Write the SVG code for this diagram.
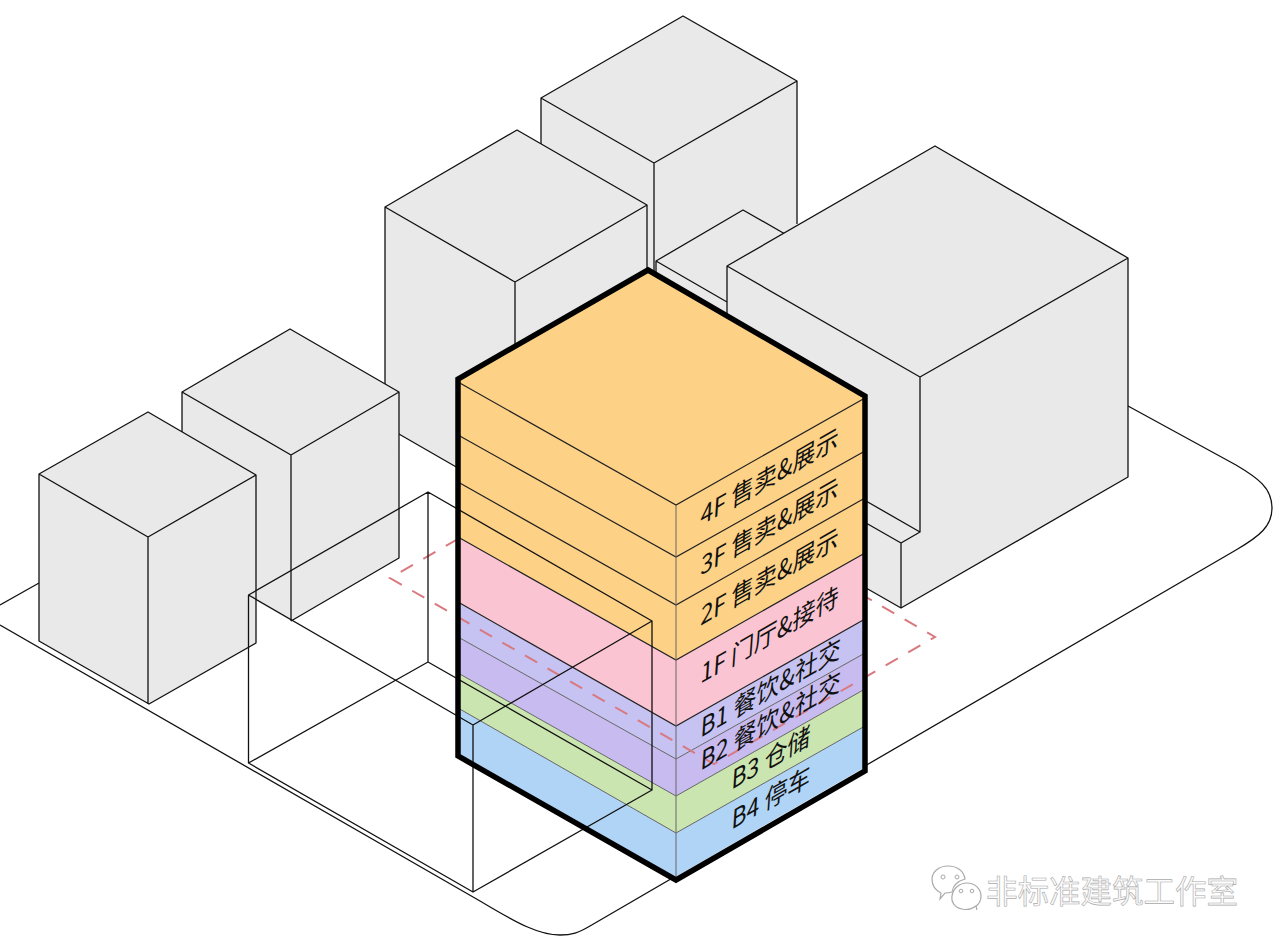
<svg xmlns="http://www.w3.org/2000/svg" width="1280" height="947" viewBox="0 0 1280 947">
<style>
.h{fill:#e9e9e9;stroke:none}
.l{fill:none;stroke:#111;stroke-width:1.3;stroke-linejoin:round}
.f{stroke:none}
.e{fill:none;stroke:#222;stroke-width:1.2}
.g{fill:none;stroke:#666;stroke-width:1}
.o{fill:#fdd186}.p{fill:#fbc4d2}.u{fill:#c6c3f3}.v{fill:#c7bbef}.n{fill:#cbe5b0}.s{fill:#b0d4f5}
.t{font-family:"Noto Sans CJK SC","Noto Sans",sans-serif;font-size:26.500px;fill:#111}
.w{font-family:"Noto Sans CJK SC","Noto Sans",sans-serif;font-size:31.500px;fill:#fbfbfb;stroke:#aaa;stroke-width:.6}
.d{fill:none;stroke:#d9797f;stroke-width:2;stroke-dasharray:14 12}
.c{fill:#fff;stroke:#aaa;stroke-width:1.2}
.y{fill:none;stroke:#aaa;stroke-width:1}
</style>
<rect width="1280" height="947" fill="#fff"/>
<g id="site"><path class="l" d="M0 625L480 901C520 925 540 935 560 935C572 935 578 933 590 926L1236 550C1260 536 1272 526 1272 508C1272 488 1258 478 1236 465L1128 406M0 605L39 583"/></g>
<g id="building-d"><path class="h" d="M683 16L797 81V300H541V98Z"/><path class="l" d="M541 144V98L683 16L797 81V224M541 98L654 163L797 81M654 163V272"/></g>
<g id="building-c"><path class="h" d="M517 130L647 205V400L515 500L385 426V207Z"/><path class="l" d="M647 272V205L517 130L385 207V426L458 468M385 207L515 282L647 205M515 282V350"/></g>
<g id="building-e"><path class="h" d="M743 210L790 238V320H656V261Z"/><path class="l" d="M656 276V261L743 210L785 234M656 261L727 302"/></g>
<g id="building-f"><path class="h" d="M935 146L1128 258V477L901 608L866 588V400L727 320V266Z"/><path class="l" d="M727 316V266L935 146L1128 258V477L901 608L866 588M727 266L920 377L1128 258M920 377V532L901 543V608M901 543L866 523M920 532L866 501"/></g>
<g id="building-b"><path class="h" d="M290 329L399 392V558L291 621L182 558V392Z"/><path class="l" d="M182 520V392L290 329L399 392V558L291 621M182 392L291 455L399 392M291 455V621"/></g>
<g id="building-a"><path class="h" d="M148 412L256 475V643L149 704L39 641V474Z"/><path class="l" d="M39 474L148 412L256 475V643L149 704L39 641ZM39 474L148 537L256 475M148 537V704"/></g>
<g id="tower">
<path class="f o" d="M648 270L865 396V553L676 660L458 537V379Z"/>
<path class="f p" d="M458 537L676 660L865 553V619L676 726L458 602Z"/>
<path class="f u" d="M458 602L676 726L865 619V653L676 759L458 637Z"/>
<path class="f v" d="M458 637L676 759L865 653V689L676 796L458 673Z"/>
<path class="f n" d="M458 673L676 796L865 689V726L676 833L458 708Z"/>
<path class="f s" d="M458 708L676 833L865 726V771L676 880L458 756Z"/>
<path class="e" d="M458 382L676 505L865 398M458 435L676 557L865 451M458 482L676 605L865 498M458 537L676 660L865 553M458 602L676 726L865 619"/>
<path class="g" d="M458 637L676 759L865 653M458 673L676 796L865 689M458 708L676 833L865 726M676 505V878"/>
<path d="M678 876L863 769" fill="none" stroke="#eef5fc" stroke-width="1.2"/>
</g>
<g id="red-dash"><path class="d" d="M458 539L390 578L714 764L935 637L866 597"/></g>
<g id="wire-box"><path class="l" d="M428 492L652 621L473 725L248.500 595ZM428 662L652 790L473 892L248.500 763ZM428 492V662M652 621V790M473 725V892M248.500 595V763"/></g>
<g id="tower-outline"><path fill="none" stroke="#000" stroke-width="5.500" stroke-linejoin="miter" d="M648 270L865 396V771L676 880L458 756V379Z"/></g>
<g id="labels">
<text class="t" transform="matrix(.866 -.5 -.07 1 700 526)">4F 售卖&amp;展示</text>
<text class="t" transform="matrix(.866 -.5 -.07 1 700 576)">3F 售卖&amp;展示</text>
<text class="t" transform="matrix(.866 -.5 -.07 1 700 626)">2F 售卖&amp;展示</text>
<text class="t" transform="matrix(.866 -.5 -.07 1 700 684)">1F 门厅&amp;接待</text>
<text class="t" transform="matrix(.866 -.5 -.07 1 700 738)">B1 餐饮&amp;社交</text>
<text class="t" transform="matrix(.866 -.5 -.07 1 700 771)">B2 餐饮&amp;社交</text>
<text class="t" transform="matrix(.866 -.5 -.07 1 731 790)">B3 仓储</text>
<text class="t" transform="matrix(.866 -.5 -.07 1 731 830)">B4 停车</text>
</g>
<g id="watermark">
<path class="c" d="M940 899L941 893C935 890 932 885 932 879C932 871 940 866 948 866C957 866 964 871 965 879C958 881 953 885 952 892C949 893 947 893 945 893Z"/>
<path class="c" d="M977 910L976 906C972 909 966 910 962 909C955 908 951 902 952 896C953 888 960 883 967 883C975 883 981 889 981 896C981 900 979 904 976 906"/>
<circle class="y" cx="943" cy="877" r="2"/><circle class="y" cx="957" cy="877" r="2"/><circle class="y" cx="961" cy="891" r="1.800"/><circle class="y" cx="972" cy="891" r="1.800"/>
<text class="w" x="986" y="903">非标准建筑工作室</text>
</g>
</svg>
